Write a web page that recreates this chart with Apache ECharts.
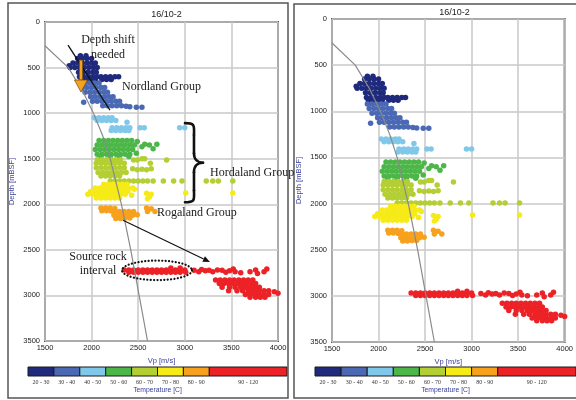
<!DOCTYPE html>
<html><head><meta charset="utf-8">
<script src="https://cdn.jsdelivr.net/npm/echarts@6/dist/echarts.min.js"></script>
<style>html,body{margin:0;padding:0;background:#fff}#c{width:576px;height:400px}</style>
</head><body><div id="c"></div>
<script>
// ---------------- DATA ----------------
const TITLE = '16/10-2';
const X_NAME = 'Vp [m/s]';
const Y_NAME = 'Depth [mBSF]';
const LEGEND_NAME = 'Temperature [C]';
const TEMP_BINS = ['20 - 30','30 - 40','40 - 50','50 - 60','60 - 70','70 - 80','80 - 90','90 - 120'];
const BIN_LO = [20,30,40,50,60,70,80,90];
const BIN_HI = [30,40,50,60,70,80,90,120];
// depth shift read between the two panels (left = before correction)
const DEPTH_SHIFT = 250;

const T20_30 = [
[1880,620],[1940,620],
[1850,650],[1900,650],[1950,650],[2000,650],
[1800,700],[1850,700],[1900,700],[1950,700],[2000,700],[2040,700],
[1760,730],
[1770,750],[1820,750],[1870,750],[1920,750],[1970,750],[2020,750],[2060,750],
[1860,800],[1910,800],[1960,800],[2010,800],[2050,800],
[1870,850],[1920,850],[1970,850],[2020,850],[2060,850],[2100,850],[2150,850],[2200,850],[2250,850],[2290,850],
[1890,880],[1940,880],[1990,880],[2040,880],[2110,880],[2160,880],[2210,880]
];
const T30_40 = [
[1880,920],[1930,920],[1980,920],[2030,920],[2080,920],
[1900,970],[1950,970],[2000,970],[2050,970],[2100,970],[2140,970],
[1930,1020],[1980,1020],[2030,1020],[2080,1020],[2130,1020],[2170,1020],
[1990,1070],[2040,1070],[2090,1070],[2140,1070],[2190,1070],[2230,1070],
[1915,1130],[2010,1120],[2060,1120],[2110,1120],[2160,1120],[2210,1120],[2260,1120],[2300,1120],
[2120,1170],[2170,1170],[2220,1170],[2270,1170],[2320,1170],[2370,1175],[2410,1180],[2480,1185],[2540,1185]
];
const T40_50 = [
[2030,1300],[2080,1300],[2130,1300],[2180,1300],[2220,1300],
[2060,1330],[2110,1330],[2160,1330],[2210,1330],[2260,1330],
[2380,1350],
[2220,1410],[2270,1410],[2320,1410],[2370,1410],[2410,1410],
[2210,1440],[2260,1440],[2310,1440],[2360,1440],[2400,1440],
[2520,1410],[2565,1410],[2945,1410],[3000,1410]
];
const T50_60 = [
[2080,1550],[2130,1550],[2180,1550],[2230,1550],[2280,1550],[2330,1550],[2380,1550],[2430,1550],[2490,1560],
[2060,1600],[2110,1600],[2160,1600],[2210,1600],[2260,1600],[2310,1600],[2360,1600],[2410,1600],[2460,1600],
[2040,1650],[2090,1650],[2140,1650],[2190,1650],[2240,1650],[2290,1650],[2340,1650],[2390,1650],[2440,1650],
[2060,1700],[2110,1700],[2160,1700],[2210,1700],[2260,1700],[2310,1700],[2360,1700],[2410,1700],[2480,1690],
[2100,1725],[2200,1725],[2300,1725],[2400,1725],
[2540,1620],[2570,1590],[2620,1600],[2660,1640],[2700,1590]
];
const T60_70 = [
[2060,1760],[2110,1760],[2160,1760],[2210,1760],[2260,1760],[2310,1760],
[2050,1800],[2100,1800],[2150,1800],[2200,1800],[2250,1800],[2300,1800],[2350,1800],
[2050,1850],[2100,1850],[2150,1850],[2200,1850],[2250,1850],[2300,1850],[2350,1850],
[2070,1900],[2120,1900],[2170,1900],[2220,1900],[2270,1900],[2320,1900],[2370,1900],
[2100,1940],[2150,1940],[2200,1940],[2250,1940],[2300,1940],
[2450,1765],[2490,1765],[2540,1750],[2570,1750],[2630,1800],[2805,1765],
[2440,1860],[2490,1870],[2540,1865],[2590,1870],[2640,1860],
[2200,1995],[2250,1995],[2300,1995],[2350,1995],[2400,1995],[2450,1995],[2500,1995],[2550,1995],[2600,1995],
[2660,1995],[2770,1995],[2880,1995],[2970,1995],[3230,1995],[3300,1995],[3360,1995],[3515,1995]
];
const T70_80 = [
[2130,2030],[2180,2030],[2230,2030],[2280,2030],[2330,2030],[2380,2030],
[2040,2070],[2090,2070],[2140,2070],[2190,2070],[2240,2070],[2290,2070],[2340,2070],[2390,2070],[2440,2070],
[1990,2110],[2040,2110],[2090,2110],[2140,2110],[2190,2110],[2240,2110],[2290,2110],[2340,2110],[2390,2110],
[1960,2140],[2010,2140],[2060,2140],[2110,2140],[2160,2140],[2210,2140],[2260,2140],[2310,2140],[2360,2140],[2430,2150],
[2050,2180],[2100,2180],[2150,2180],[2200,2180],[2250,2180],[2300,2180],
[2460,2085],[2590,2130],[2640,2140],[2620,2170],[2600,2190],[3010,2125],[3515,2125]
];
const T80_90 = [
[2100,2290],[2150,2290],[2200,2290],[2250,2295],
[2110,2320],[2160,2320],[2210,2325],
[2250,2330],[2300,2330],[2350,2330],[2400,2330],[2450,2330],
[2240,2370],[2290,2370],[2340,2370],[2390,2370],[2440,2370],[2490,2365],
[2260,2405],[2310,2405],[2360,2400],[2410,2400],
[2590,2290],[2640,2300],[2600,2330],[2680,2330]
];
const T90_120 = [
[2350,2970],[2400,2970],[2450,2970],[2500,2970],[2550,2970],[2600,2970],[2650,2970],[2700,2970],[2750,2970],
[2800,2970],[2850,2970],[2900,2970],[2950,2970],[3000,2970],
[2400,2995],[2450,2995],[2500,2995],[2550,2995],[2600,2995],[2650,2995],[2700,2995],[2750,2995],[2800,2995],
[2850,2995],[2900,2995],[2950,2995],[3010,2995],
[2850,2950],[2950,2950],
[3100,2975],[3150,2990],[3180,2965],[3220,2980],[3260,2975],[3300,2990],[3350,2970],[3400,2975],[3440,2995],[3480,2980],
[3520,2960],[3540,2990],[3600,3000],[3700,2990],[3760,2970],[3780,3010],[3850,2990],[3880,2960],
[3330,3080],[3380,3080],[3430,3080],[3480,3080],[3530,3080],[3580,3080],[3630,3080],[3680,3080],[3730,3080],
[3370,3120],[3420,3120],[3470,3120],[3520,3120],[3570,3120],[3620,3120],[3670,3120],[3720,3120],[3760,3120],
[3400,3160],[3480,3160],[3540,3160],[3600,3160],[3650,3160],[3700,3160],[3750,3160],[3800,3160],
[3470,3200],[3560,3200],[3620,3200],[3680,3200],[3720,3200],[3760,3200],[3800,3200],[3850,3200],[3900,3200],
[3650,3240],[3700,3240],[3750,3240],[3800,3240],[3850,3240],[3900,3240],[3960,3210],[4000,3225],
[3700,3270],[3760,3270],[3810,3270],[3860,3270]
];
const GROUPS = [T20_30,T30_40,T40_50,T50_60,T60_70,T70_80,T80_90,T90_120];
// gray reference trend line [Vp, depth]
const TREND = [[1500,260],[1750,500],[1900,750],[2020,1000],[2120,1250],[2200,1500],[2260,1750],[2320,2000],[2420,2500],[2510,3000],[2600,3500]];

// ---------------- STYLE ----------------
const COLORS = ['#1f2a7c','#4a68b4','#80c8ea','#4cb748','#b3cf33','#f6ea17','#f7a11c','#ec2227'];
const BLUE_TXT = '#3b409c';
const SANS = 'Liberation Sans';
const SERIF = 'Liberation Serif';

const chart = echarts.init(document.getElementById('c'), null, {renderer:'canvas'});

function valueAxis(type, idx){
  return {
    type:'value', gridIndex: idx,
    min: type==='x'?1500:0, max: type==='x'?4000:3500, interval:500,
    inverse: type==='y',
    name: type==='x'?X_NAME:Y_NAME, nameLocation:'middle',
    nameGap: type==='x'?11:29,
    nameTextStyle:{color:BLUE_TXT, fontSize:7.5, fontFamily:SANS},
    axisLine:{show:false}, axisTick:{show:false},
    axisLabel:{color:'#222', fontSize:7.5, fontFamily:SANS, margin: type==='x'?3:5, showMinLabel:true, showMaxLabel:true,
      formatter:(v)=>String(v)},
    splitLine:{show:true, lineStyle:{color:'#c9c9c9', width:1.5}}
  };
}
function barAxisX(idx){
  return {type:'value', gridIndex:idx, min:20, max:120, name:LEGEND_NAME, nameLocation:'middle', nameGap:11,
    nameTextStyle:{color:BLUE_TXT, fontSize:6.8, fontFamily:SANS},
    axisLine:{show:false}, axisTick:{show:false}, axisLabel:{show:false}, splitLine:{show:false}};
}
function barAxisY(idx){
  return {type:'value', gridIndex:idx, min:0, max:1, show:false};
}

const series = [];
[0,1].forEach(g=>{
  GROUPS.forEach((arr,i)=>{
    series.push({
      type:'scatter', xAxisIndex:g, yAxisIndex:g, name:TEMP_BINS[i],
      data: g===0 ? arr.map(p=>[p[0], p[1]-DEPTH_SHIFT]) : arr,
      symbol:'circle', symbolSize:5.5, itemStyle:{color:COLORS[i], opacity:1}, silent:true, z:2
    });
  });
  series.push({type:'line', xAxisIndex:g, yAxisIndex:g, data:TREND, symbol:'none',
    lineStyle:{color:'#8a8a8a', width:1.2}, silent:true, z:3});
});
const BIN_DATA = TEMP_BINS.map((t,i)=>[BIN_LO[i], 0.5, BIN_HI[i], i]);
[2,3].forEach(g=>{
  series.push({type:'custom', xAxisIndex:g, yAxisIndex:g, data:BIN_DATA, encode:{x:[0,2], y:1}, silent:true,
    renderItem:(params, api)=>{
      const lo=api.value(0), hi=api.value(2), i=api.value(3);
      const p0=api.coord([lo,1]), p1=api.coord([hi,0]);
      return {type:'group', children:[
        {type:'rect', shape:{x:p0[0], y:p0[1], width:p1[0]-p0[0], height:p1[1]-p0[1]},
          style:{fill:COLORS[i], stroke:'#1a1a1a', lineWidth:1}},
        {type:'text', style:{text:TEMP_BINS[i], x:(p0[0]+p1[0])/2, y:p1[1]+3.5, align:'center', verticalAlign:'top',
          fontSize:6, fontFamily:SERIF, fill:'#333'}}
      ]};
    }});
});

const option = {
  animation:false,
  backgroundColor:'#fff',
  title:[
    {text:TITLE, left:161.5, top:5, textAlign:'center', textStyle:{fontSize:9, fontWeight:'normal', color:'#222', fontFamily:SANS}},
    {text:TITLE, left:449.5, top:3, textAlign:'center', textStyle:{fontSize:9, fontWeight:'normal', color:'#222', fontFamily:SANS}}
  ],
  grid:[
    {left:45, top:22, width:233, height:319, show:true, borderColor:'#555', borderWidth:2},
    {left:332, top:19, width:235, height:323, show:true, borderColor:'#555', borderWidth:2},
    {left:28, top:367, width:259, height:9},
    {left:315, top:367, width:263, height:9}
  ],
  xAxis:[valueAxis('x',0), valueAxis('x',1), barAxisX(2), barAxisX(3)],
  yAxis:[valueAxis('y',0), valueAxis('y',1), barAxisY(2), barAxisY(3)],
  series
};
chart.setOption(option);

// ---------------- ANNOTATIONS (anchored in left-panel data space) ----------------
const P = (v,d)=>chart.convertToPixel({gridIndex:0},[v,d]);
const txt = (s, pos, align)=>({type:'text', z:100, style:{text:s, x:pos[0], y:pos[1], align:align||'center', verticalAlign:'middle',
  fontSize:12, fontFamily:SERIF, fill:'#1a1a1a'}});
const INK = {fill:'none', stroke:'#111', lineWidth:2.6, lineCap:'round'};

const g = [];
g.push({type:'rect', z:90, shape:{x:8, y:3, width:280, height:395}, style:{fill:'none', stroke:'#555', lineWidth:1.5}});
g.push({type:'rect', z:90, shape:{x:294, y:4, width:290, height:394}, style:{fill:'none', stroke:'#555', lineWidth:1.5}});

g.push(txt('Depth shift', P(2176,198)));
g.push(txt('needed', P(2176,363)));
const l1=P(1747,253), l2=P(2197,967);
g.push({type:'line', z:100, shape:{x1:l1[0],y1:l1[1],x2:l2[0],y2:l2[1]}, style:{stroke:'#111', lineWidth:1.3}});
// orange arrow
const a0=P(1886,418), a1=P(1886,637), a2=P(1886,769);
g.push({type:'rect', z:100, shape:{x:a0[0]-1.6, y:a0[1], width:3.2, height:a1[1]-a0[1]}, style:{fill:'#f7a11c', stroke:'#6b4a10', lineWidth:0.6}});
g.push({type:'polygon', z:101, shape:{points:[[a1[0]-6.5,a1[1]],[a1[0]+6.5,a1[1]],[a2[0],a2[1]]]}, style:{fill:'#f7a11c', stroke:'#6b4a10', lineWidth:0.7}});
g.push(txt('Nordland Group', P(2326,714), 'left'));
// curly brace
{
  const bt=P(3002,1110), bb=P(3002,1978), btip=P(3195,1544);
  const x0=bt[0], y0=bt[1], y1=bb[1], w=btip[0]-x0, h=y1-y0, ym=(y0+y1)/2, xm=x0+w*0.5;
  const bz=(x1,y1_,c1x,c1y,c2x,c2y,x2,y2)=>({type:'bezierCurve', z:100,
    shape:{x1:x1,y1:y1_,cpx1:c1x,cpy1:c1y,cpx2:c2x,cpy2:c2y,x2:x2,y2:y2}, style:INK});
  g.push(bz(x0,y0, x0+w*0.6,y0, xm,y0+h*0.04, xm,y0+h*0.15));
  g.push({type:'line', z:100, shape:{x1:xm,y1:y0+h*0.15,x2:xm,y2:ym-h*0.12}, style:INK});
  g.push(bz(xm,ym-h*0.12, xm,ym-h*0.03, x0+w*0.75,ym, x0+w,ym));
  g.push(bz(x0+w,ym, x0+w*0.75,ym, xm,ym+h*0.03, xm,ym+h*0.12));
  g.push({type:'line', z:100, shape:{x1:xm,y1:ym+h*0.12,x2:xm,y2:y1-h*0.15}, style:INK});
  g.push(bz(xm,y1-h*0.15, xm,y1-h*0.04, x0+w*0.6,y1, x0,y1));
}
g.push(txt('Hordaland Group', P(3270,1660), 'left'));
g.push(txt('Rogaland Group', P(2702,2096), 'left'));
// black arrow to deep red interval
{
  const s=P(2337,2176), e=P(3270,2634);
  const dx=e[0]-s[0], dy=e[1]-s[1], L=Math.hypot(dx,dy), ux=dx/L, uy=dy/L;
  const bx=e[0]-ux*7, by=e[1]-uy*7;
  g.push({type:'line', z:100, shape:{x1:s[0],y1:s[1],x2:bx,y2:by}, style:{stroke:'#111', lineWidth:1.2}});
  g.push({type:'polygon', z:100, shape:{points:[[e[0],e[1]],[bx-uy*3,by+ux*3],[bx+uy*3,by-ux*3]]}, style:{fill:'#111'}});
}
g.push(txt('Source rock', P(2069,2572)));
g.push(txt('interval', P(2069,2725)));
// dotted ellipse around the source rock interval
{
  const c=P(2702,2725), r=P(3077,2832);
  const rx=r[0]-c[0], ry=r[1]-c[1];
  const pts=[];
  for(let k=0;k<=72;k++){ const t=k/72*2*Math.PI; pts.push([c[0]+rx*Math.cos(t), c[1]+ry*Math.sin(t)]); }
  g.push({type:'polyline', z:100, shape:{points:pts}, style:{fill:'none', stroke:'#111', lineWidth:2.2, lineDash:[0.1,3.3], lineCap:'round'}});
}
chart.setOption({graphic:{elements:g}});
</script>
</body></html>
